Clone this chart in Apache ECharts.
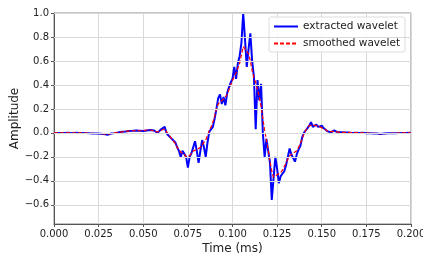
<!DOCTYPE html>
<html><head><meta charset="utf-8">
<script src="https://cdn.jsdelivr.net/npm/echarts@6/dist/echarts.min.js"></script>
<style>html,body{margin:0;padding:0;background:#fff}#c{width:423px;height:255px}</style>
</head><body><div id="c"></div>
<script>
// time step (ms) between samples
const timeStep = 0.001;
const extracted = [
0,0.002,0,-0.002,0,0.001,-0.001,0,0.002,0,
-0.002,0,0.001,-0.001,0,0.002,0,-0.003,-0.002,0,
-0.004,-0.003,-0.005,-0.004,-0.006,-0.005,-0.008,-0.006,-0.01,-0.012,
-0.015,-0.01,-0.005,0,-0.002,0.002,0.004,0.006,0.01,0.008,
0.012,0.014,0.016,0.018,0.017,0.02,0.019,0.02,0.018,0.015,
0.015,0.03,0.02,0.03,0.025,0.02,0.02,0.01,0.0,0.01,
0.03,0.03,0.05,0.0,-0.02,-0.03,-0.05,-0.06,-0.08,-0.12,
-0.15,-0.2,-0.15,-0.14,-0.2,-0.29,-0.2,-0.17,-0.12,-0.07,
-0.15,-0.25,-0.15,-0.06,-0.12,-0.2,-0.08,0.01,0.02,0.05,
0.12,0.2,0.29,0.32,0.24,0.3,0.23,0.33,0.38,0.42,
0.45,0.55,0.45,0.58,0.64,0.75,1.0,0.78,0.55,0.7,
0.83,0.6,0.47,0.03,0.44,0.27,0.41,0.0,-0.2,-0.05,
-0.06,-0.25,-0.56,-0.38,-0.2,-0.3,-0.42,-0.36,-0.35,-0.32,
-0.27,-0.2,-0.13,-0.18,-0.17,-0.24,-0.18,-0.14,-0.11,-0.04,
0.0,0.02,0.04,0.06,0.09,0.05,0.06,0.07,0.05,0.06,
0.06,0.04,0.025,0.015,0.01,0.005,0.015,0.02,0.01,0.005,
0.01,0.005,0.006,0.004,0.008,0.003,0.005,0.0,0.004,0.002,
0.003,0.0,-0.002,0.002,0.0,-0.003,0.001,-0.002,-0.004,-0.005,
-0.003,-0.006,-0.008,-0.01,-0.007,-0.005,-0.008,-0.004,-0.006,-0.003,
-0.002,-0.004,0.0,-0.002,0.001,0.0,-0.002,0.0,0.002,0.001,
0.0
];
const smoothed = [
0,0.001,0,-0.001,0,0.001,0,0,0.001,0,
-0.001,0,0.001,0,0,0.001,0,-0.002,-0.002,-0.001,
-0.003,-0.003,-0.004,-0.004,-0.005,-0.005,-0.007,-0.007,-0.009,-0.011,
-0.012,-0.009,-0.005,-0.001,0,0.002,0.004,0.006,0.009,0.009,
0.012,0.014,0.016,0.017,0.018,0.019,0.019,0.019,0.018,0.017,
0.018,0.024,0.024,0.026,0.024,0.021,0.017,0.011,0.007,0.011,
0.022,0.03,0.03,0.01,-0.01,-0.03,-0.05,-0.07,-0.09,-0.12,
-0.14,-0.16,-0.17,-0.18,-0.2,-0.21,-0.19,-0.17,-0.15,-0.14,
-0.14,-0.14,-0.12,-0.1,-0.09,-0.06,-0.02,0.02,0.05,0.09,
0.14,0.2,0.24,0.26,0.27,0.28,0.29,0.32,0.36,0.4,
0.44,0.47,0.5,0.54,0.58,0.65,0.72,0.7,0.68,0.66,
0.6,0.52,0.46,0.42,0.36,0.3,0.22,0.12,0.02,-0.06,
-0.14,-0.24,-0.32,-0.37,-0.36,-0.35,-0.35,-0.33,-0.31,-0.28,
-0.25,-0.22,-0.19,-0.18,-0.17,-0.16,-0.15,-0.12,-0.09,-0.05,
-0.01,0.02,0.04,0.06,0.07,0.065,0.06,0.06,0.055,0.05,
0.045,0.035,0.025,0.017,0.012,0.01,0.012,0.013,0.01,0.007,
0.007,0.005,0.005,0.005,0.005,0.004,0.003,0.002,0.002,0.002,
0.001,0.0,0.0,0.0,-0.001,-0.001,-0.001,-0.002,-0.003,-0.004,
-0.004,-0.005,-0.006,-0.007,-0.006,-0.006,-0.006,-0.005,-0.004,-0.003,
-0.003,-0.002,-0.001,-0.001,0.0,0.0,0.0,0.0,0.001,0.001,
0.0
];
const xTicks = [0,0.025,0.05,0.075,0.1,0.125,0.15,0.175,0.2];
const yTicks = [-0.6,-0.4,-0.2,0.0,0.2,0.4,0.6,0.8,1.0];

const toPairs = arr => arr.map((v,i)=>[+(i*timeStep).toFixed(4), v]);
const font = 'DejaVu Sans';
const chart = echarts.init(document.getElementById('c'), null, {renderer:'canvas'});
chart.setOption({
  animation:false,
  backgroundColor:'#fff',
  textStyle:{fontFamily:font},
  grid:{left:54,right:12,top:13,bottom:31,show:true,borderColor:'#888',borderWidth:1,
        containLabel:false,outerBoundsMode:'none'},
  legend:{
    top:17,right:18,orient:'vertical',itemGap:6,itemWidth:24,itemHeight:10,
    backgroundColor:'rgba(255,255,255,0.85)',borderColor:'#ddd',borderWidth:1,borderRadius:2,
    padding:[4,5,3,4],
    itemStyle:{opacity:0},
    textStyle:{fontFamily:font,fontSize:10.5,color:'#222'},
    data:['extracted wavelet','smoothed wavelet']
  },
  xAxis:{
    type:'value',min:0,max:0.2,interval:0.025,
    name:'Time (ms)',nameLocation:'middle',nameGap:19,nameMoveOverlap:false,
    nameTextStyle:{fontFamily:font,fontSize:12,color:'#222'},
    axisLine:{show:true,onZero:false,lineStyle:{color:'#555'}},
    axisTick:{show:true,length:3,lineStyle:{color:'#555'}},
    axisLabel:{fontFamily:font,fontSize:10,color:'#222',margin:5,formatter:v=>v.toFixed(3),
      customValues:xTicks},
    splitLine:{show:true,lineStyle:{color:'#d9d9d9',width:1}}
  },
  yAxis:{
    type:'value',min:-0.76,max:1.0,
    name:'Amplitude',nameLocation:'middle',nameGap:33,nameMoveOverlap:false,
    nameTextStyle:{fontFamily:font,fontSize:12,color:'#222'},
    axisLine:{show:true,lineStyle:{color:'#555'}},
    axisTick:{show:true,length:3,lineStyle:{color:'#555'},customValues:yTicks},
    axisLabel:{fontFamily:font,fontSize:10,color:'#222',margin:5,
      formatter:v=>(v<0?'\u2212':'')+Math.abs(v).toFixed(1),customValues:yTicks},
    splitLine:{show:false}
  },
  series:[
    {name:'extracted wavelet',type:'line',data:toPairs(extracted),symbol:'none',showSymbol:false,
     lineStyle:{color:'#0000ff',width:2},itemStyle:{color:'#0000ff'},z:2,
     markLine:{silent:true,symbol:'none',label:{show:false},animation:false,
       lineStyle:{color:'#d9d9d9',width:1,type:'solid'},
       data:yTicks.map(v=>({yAxis:v}))},
     },
    {name:'smoothed wavelet',type:'line',data:toPairs(smoothed),symbol:'none',showSymbol:false,
     lineStyle:{color:'#ff0000',width:1.2,type:[4,2]},itemStyle:{color:'#ff0000'},z:3}
  ]
});
</script></body></html>
